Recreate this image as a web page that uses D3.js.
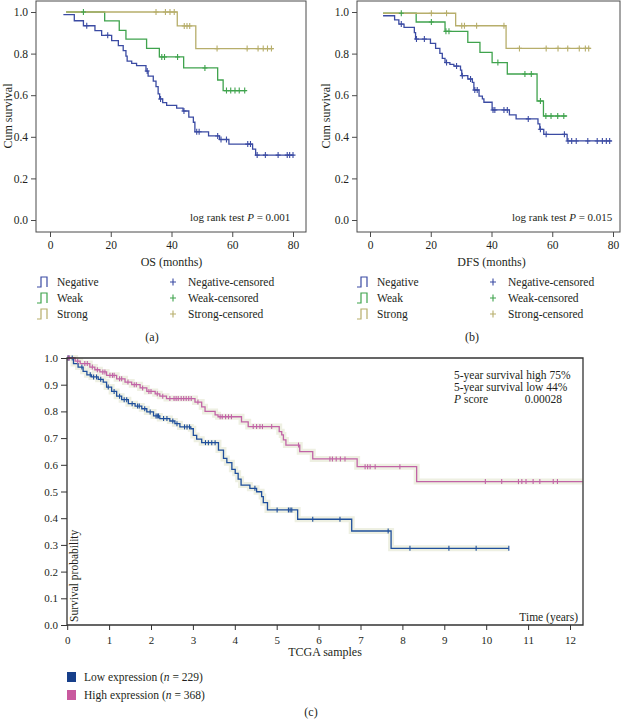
<!DOCTYPE html>
<html><head><meta charset="utf-8">
<script src="https://cdn.jsdelivr.net/npm/d3@7"></script>
<style>
body{margin:0;background:#fff;}
svg{display:block;font-family:"Liberation Serif","DejaVu Serif",serif;}
</style></head>
<body>
<script>
// ---------- DATA ----------
// Panel (a) OS, months: [time, survival] step points, end time, censored times
const osTicks = [0,20,40,60,80];
const survTicks = [0,0.2,0.4,0.6,0.8,1.0];
const osNegative = [[4.4,0.987],[8.0,0.958],[11.0,0.934],[14.8,0.910],[17.0,0.888],[20.3,0.862],[22.5,0.838],[24.1,0.814],[25.0,0.788],[25.4,0.764],[26.9,0.753],[28.5,0.742],[31.6,0.716],[32.3,0.692],[34.0,0.668],[34.9,0.641],[35.6,0.606],[36.1,0.582],[37.1,0.564],[38.4,0.551],[41.7,0.538],[43.8,0.524],[45.7,0.495],[47.2,0.470],[47.7,0.424],[52.2,0.404],[55.8,0.387],[58.9,0.365],[66.7,0.341],[67.7,0.312]];
const osNegativeEnd = 80.2;
const osNegativeCens = [12.1,19.0,32.0,36.4,44.1,48.3,49.1,55.2,56.3,58.1,65.1,66.0,68.2,70.9,75.1,78.1,78.9,80.0];
const osWeak = [[5.3,1.0],[18.0,0.957],[22.8,0.912],[25.0,0.870],[31.8,0.825],[36.0,0.784],[44.0,0.731],[55.2,0.673],[57.0,0.622]];
const osWeakEnd = 64.4;
const osWeakCens = [11.0,36.8,37.7,42.0,51.0,58.1,59.5,60.9,62.3,64.1];
const osStrong = [[5.3,1.0],[41.9,0.933],[48.0,0.824]];
const osStrongEnd = 73.5;
const osStrongCens = [34.9,38.0,39.5,40.9,44.2,45.1,46.0,55.0,64.9,68.5,70.2,71.6,72.9];

// Panel (b) DFS, months
const dfsTicks = [0,20,40,60,80];
const dfsNegative = [[4.3,0.982],[8.1,0.962],[9.5,0.942],[11.2,0.926],[14.6,0.901],[15.0,0.870],[19.9,0.849],[21.6,0.825],[23.0,0.801],[23.8,0.777],[24.7,0.757],[26.3,0.748],[27.6,0.740],[29.8,0.721],[30.2,0.694],[32.2,0.678],[33.7,0.662],[34.2,0.625],[35.9,0.596],[37.0,0.582],[37.5,0.566],[40.2,0.529],[45.9,0.505],[48.1,0.486],[55.3,0.462],[55.9,0.436],[57.2,0.412],[64.9,0.380]];
const dfsNegativeEnd = 79.6;
const dfsNegativeCens = [10.3,15.3,17.9,25.2,28.5,30.4,33.1,34.5,35.3,40.5,41.1,44.1,45.2,52.1,56.1,58.0,64.0,65.2,66.4,67.9,71.7,74.8,76.5,77.8,78.9];
const dfsWeak = [[4.3,0.994],[15.2,0.952],[24.7,0.907],[32.2,0.854],[36.2,0.806],[40.2,0.757],[45.2,0.702],[55.0,0.572],[57.1,0.500]];
const dfsWeakEnd = 64.9;
const dfsWeakCens = [10.3,20.2,25.0,26.0,42.1,51.0,53.1,56.1,57.9,59.6,61.8,63.8];
const dfsStrong = [[4.3,0.994],[28.2,0.934],[44.8,0.825]];
const dfsStrongEnd = 72.6;
const dfsStrongCens = [20.2,25.2,30.2,31.1,35.1,44.1,49.2,58.0,61.9,65.1,68.9,70.9,72.0];

// Panel (c) TCGA, years
const tcgaTicks = [0,1,2,3,4,5,6,7,8,9,10,11,12];
const probTicks = [0,0.1,0.2,0.3,0.4,0.5,0.6,0.7,0.8,0.9,1.0];
const lowExpr = [[0,1.0],[0.15,0.979],[0.26,0.966],[0.38,0.950],[0.47,0.937],[0.58,0.929],[0.74,0.920],[0.86,0.910],[0.94,0.891],[1.06,0.875],[1.18,0.857],[1.30,0.844],[1.46,0.829],[1.62,0.820],[1.78,0.810],[1.90,0.798],[2.06,0.783],[2.21,0.773],[2.45,0.764],[2.57,0.754],[2.69,0.742],[2.95,0.735],[3.01,0.710],[3.09,0.696],[3.21,0.683],[3.61,0.655],[3.73,0.624],[3.81,0.608],[3.93,0.583],[4.01,0.568],[4.08,0.546],[4.15,0.524],[4.36,0.512],[4.52,0.499],[4.64,0.481],[4.68,0.458],[4.78,0.431],[5.50,0.396],[6.79,0.352],[7.73,0.287]];
const lowExprEnd = 10.54;
const lowExprCens = [0.02,0.04,0.12,0.35,0.55,0.63,0.70,0.80,0.98,1.12,1.25,1.36,1.42,1.55,1.68,1.72,1.85,1.98,2.12,2.15,2.18,2.30,2.38,2.52,2.62,2.80,2.86,2.92,3.30,3.37,3.45,3.53,4.48,5.01,5.28,5.32,5.36,5.86,6.51,7.66,8.18,9.11,9.76,10.54];
const highExpr = [[0,1.0],[0.19,0.988],[0.31,0.979],[0.54,0.966],[0.66,0.956],[0.78,0.948],[0.94,0.935],[1.18,0.922],[1.38,0.910],[1.54,0.900],[1.74,0.888],[1.90,0.875],[2.10,0.866],[2.21,0.857],[2.37,0.848],[3.05,0.835],[3.21,0.817],[3.29,0.800],[3.53,0.787],[3.60,0.780],[4.16,0.761],[4.32,0.743],[5.06,0.724],[5.12,0.712],[5.16,0.693],[5.22,0.674],[5.55,0.649],[5.86,0.622],[6.92,0.593],[8.34,0.537]];
const highExprEnd = 12.3;
const highExprCens = [0.02,0.05,0.25,0.42,0.48,0.60,0.72,0.85,0.90,1.02,1.08,1.12,1.25,1.30,1.45,1.60,1.65,1.80,1.95,2.00,2.15,2.28,2.45,2.55,2.60,2.65,2.72,2.78,2.84,2.90,2.96,3.12,3.65,3.70,3.78,3.85,3.92,4.44,4.52,4.60,4.66,4.88,5.52,6.27,6.33,6.42,6.52,6.63,7.11,7.17,7.23,7.35,7.94,9.98,10.37,10.77,10.85,10.95,11.12,11.28,11.6,11.7];

const groupNames = ["Negative","Weak","Strong"];
const tcgaLegend = [["Low expression (","n"," = 229)"],["High expression (","n"," = 368)"]];

// ---------- STYLE ----------
const C_NEG = "#3b4ba3", C_WEAK = "#3fa34d", C_STRONG = "#b7ae6b";
const C_LOW = "#1f4f9c", C_HIGH = "#c163a6";
const TXT = "#231f20";

const svg = d3.select("body").append("svg").attr("width",628).attr("height",719);

function survAt(steps, t){
  let s = steps[0][1];
  for (const p of steps){ if (p[0] <= t + 1e-9) s = p[1]; }
  return s;
}
function kmPath(steps, end){
  return steps.concat([[end, steps[steps.length-1][1]]]);
}

// ---------- Panels a & b ----------
function smallPanel(cfg){
  const g = svg.append("g");
  const x = d3.scaleLinear().domain([0,80]).range([cfg.x0, cfg.x0 + 243]);
  const y = d3.scaleLinear().domain([0,1]).range([220,12]);
  g.append("rect").attr("x",cfg.left).attr("y",1).attr("width",cfg.right-cfg.left).attr("height",231)
    .attr("fill","none").attr("stroke","#4a4a4a").attr("stroke-width",1);
  const ya = g.append("g").attr("transform",`translate(${cfg.left},0)`)
    .call(d3.axisLeft(y).tickValues(survTicks).tickFormat(d3.format(".1f")).tickSize(5).tickPadding(3));
  const xa = g.append("g").attr("transform",`translate(0,232)`)
    .call(d3.axisBottom(x).tickValues(cfg.ticks).tickFormat(d3.format("d")).tickSize(5).tickPadding(4));
  [ya,xa].forEach(a=>{
    a.select(".domain").remove();
    a.selectAll("line").attr("stroke","#4a4a4a");
    a.selectAll("text").attr("font-family","Liberation Serif").attr("font-size",11.5).attr("fill",TXT);
  });
  g.append("text").attr("transform",`translate(${cfg.ylabX},116) rotate(-90)`).attr("text-anchor","middle")
    .attr("font-size",12).attr("fill",TXT).text("Cum survival");
  g.append("text").attr("x",x(40)).attr("y",266).attr("text-anchor","middle").attr("font-size",12).attr("fill",TXT).text(cfg.xlab);
  const line = d3.line().x(d=>x(d[0])).y(d=>y(d[1])).curve(d3.curveStepAfter);
  cfg.series.forEach(s=>{
    g.append("path").attr("d",line(kmPath(s.steps,s.end))).attr("fill","none").attr("stroke",s.color).attr("stroke-width",1.3);
  });
  cfg.series.forEach(s=>{
    s.cens.forEach(t=>{
      const cx = x(t), cy = y(survAt(s.steps,t));
      g.append("path").attr("d",`M${cx-2.5},${cy}H${cx+2.5}M${cx},${cy-3}V${cy+3}`).attr("stroke",s.color).attr("stroke-width",1.1);
    });
  });
  const lt = g.append("text").attr("x",cfg.lrX).attr("y",221).attr("font-size",11).attr("fill",TXT);
  lt.append("tspan").text("log rank test ");
  lt.append("tspan").attr("font-style","italic").text("P");
  lt.append("tspan").text(" = " + cfg.p);
  const rows = [286,302,318];
  cfg.series.forEach((s,i)=>{
    const ry = rows[i];
    const sx = cfg.legX;
    g.append("path").attr("d",`M${sx},${ry+1}H${sx+4}V${ry-9}H${sx+10}V${ry+1}`).attr("fill","none").attr("stroke",s.color).attr("stroke-width",1.2);
    g.append("text").attr("x",sx+20).attr("y",ry).attr("font-size",11.5).attr("fill",TXT).text(groupNames[i]);
    const px = cfg.legX2;
    g.append("path").attr("d",`M${px-3},${ry-4}H${px+3}M${px},${ry-7.5}V${ry-0.5}`).attr("stroke",s.color).attr("stroke-width",1.1);
    g.append("text").attr("x",px+15).attr("y",ry).attr("font-size",11.5).attr("fill",TXT).text(groupNames[i]+"-censored");
  });
  g.append("text").attr("x",cfg.capX).attr("y",341).attr("text-anchor","middle").attr("font-size",12).attr("fill",TXT).text(cfg.cap);
}

smallPanel({left:36,right:306,x0:50,ticks:osTicks,ylabX:12,xlab:"OS (months)",lrX:190,p:"0.001",legX:37,legX2:173,capX:152,cap:"(a)",
  series:[{steps:osNegative,end:osNegativeEnd,cens:osNegativeCens,color:C_NEG},
          {steps:osWeak,end:osWeakEnd,cens:osWeakCens,color:C_WEAK},
          {steps:osStrong,end:osStrongEnd,cens:osStrongCens,color:C_STRONG}]});
smallPanel({left:357,right:620,x0:370,ticks:dfsTicks,ylabX:330,xlab:"DFS (months)",lrX:512,p:"0.015",legX:357,legX2:493,capX:472,cap:"(b)",
  series:[{steps:dfsNegative,end:dfsNegativeEnd,cens:dfsNegativeCens,color:C_NEG},
          {steps:dfsWeak,end:dfsWeakEnd,cens:dfsWeakCens,color:C_WEAK},
          {steps:dfsStrong,end:dfsStrongEnd,cens:dfsStrongCens,color:C_STRONG}]});

// ---------- Panel c ----------
(function(){
  const g = svg.append("g");
  const x = d3.scaleLinear().domain([0,12]).range([67.2,570]);
  const y = d3.scaleLinear().domain([0,1]).range([625,358]);
  const line = d3.line().x(d=>x(d[0])).y(d=>y(d[1])).curve(d3.curveStepAfter);
  const series = [{steps:lowExpr,end:lowExprEnd,cens:lowExprCens,color:C_LOW},
                  {steps:highExpr,end:highExprEnd,cens:highExprCens,color:C_HIGH}];
  series.forEach(s=>{
    g.append("path").attr("d",line(kmPath(s.steps,s.end))).attr("fill","none").attr("stroke","#eef0e2").attr("stroke-width",6);
  });
  series.forEach(s=>{
    g.append("path").attr("d",line(kmPath(s.steps,s.end))).attr("fill","none").attr("stroke",s.color).attr("stroke-width",1.3);
    s.cens.forEach(t=>{
      const cx = x(t), cy = y(survAt(s.steps,t));
      g.append("line").attr("x1",cx).attr("x2",cx).attr("y1",cy-2.5).attr("y2",cy+2.5).attr("stroke",s.color).attr("stroke-width",1.1);
    });
  });
  g.append("path").attr("d","M67,358H583V625H67Z").attr("fill","none").attr("stroke","#333").attr("stroke-width",1.3);
  const ya = g.append("g").attr("transform","translate(67,0)")
    .call(d3.axisLeft(y).tickValues(probTicks).tickFormat(d3.format(".1f")).tickSize(6).tickPadding(3));
  const xa = g.append("g").attr("transform","translate(0,625)")
    .call(d3.axisBottom(x).tickValues(tcgaTicks).tickFormat(d3.format("d")).tickSize(5).tickPadding(6));
  [ya,xa].forEach(a=>{
    a.select(".domain").remove();
    a.selectAll("line").attr("stroke","#333");
    a.selectAll("text").attr("font-family","Liberation Serif").attr("font-size",11).attr("fill",TXT);
  });
  g.append("text").attr("transform","translate(78,622) rotate(-90)").attr("font-size",11.5).attr("fill",TXT).text("Survival probability");
  g.append("text").attr("x",578).attr("y",621).attr("text-anchor","end").attr("font-size",11.5).attr("fill",TXT).text("Time (years)");
  g.append("text").attr("x",325).attr("y",656).attr("text-anchor","middle").attr("font-size",12).attr("fill",TXT).text("TCGA samples");
  g.append("text").attr("x",454).attr("y",379).attr("font-size",11.5).attr("fill",TXT).text("5-year survival high 75%");
  g.append("text").attr("x",454).attr("y",391).attr("font-size",11.5).attr("fill",TXT).text("5-year survival low 44%");
  const ps = g.append("text").attr("x",454).attr("y",403).attr("font-size",11.5).attr("fill",TXT);
  ps.append("tspan").attr("font-style","italic").text("P");
  ps.append("tspan").text(" score");
  g.append("text").attr("x",562).attr("y",403).attr("text-anchor","end").attr("font-size",11.5).attr("fill",TXT).text("0.00028");
  const legCols = ["#173f8a","#c9599e"];
  [677,695].forEach((ry,i)=>{
    g.append("rect").attr("x",67).attr("y",ry-5).attr("width",9).attr("height",10).attr("fill",legCols[i]);
    const t = g.append("text").attr("x",84).attr("y",ry+4).attr("font-size",11.5).attr("fill",TXT);
    t.append("tspan").text(tcgaLegend[i][0]);
    t.append("tspan").attr("font-style","italic").text(tcgaLegend[i][1]);
    t.append("tspan").text(tcgaLegend[i][2]);
  });
  g.append("text").attr("x",311).attr("y",716).attr("text-anchor","middle").attr("font-size",12).attr("fill",TXT).text("(c)");
})();
</script>
</body></html>
